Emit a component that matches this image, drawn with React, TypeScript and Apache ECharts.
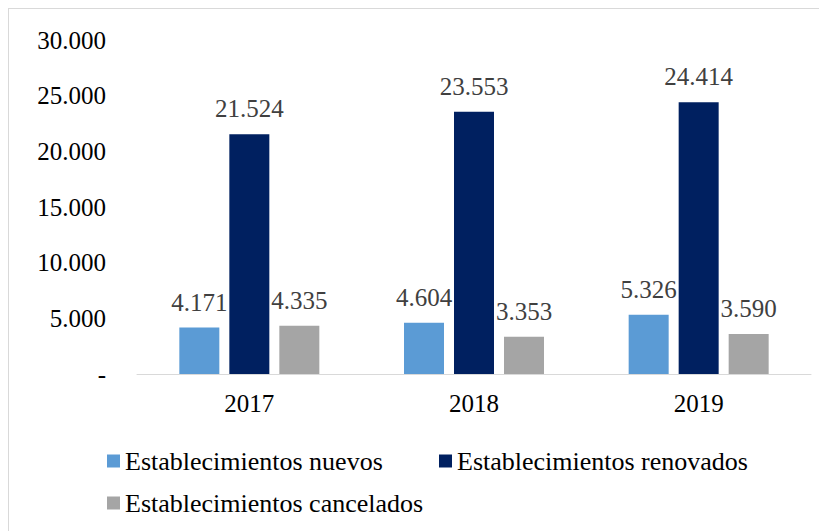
import React, { useEffect, useRef } from "react";
import * as echarts from "echarts";

const categories = ["2017", "2018", "2019"];
const seriesNames = [
  "Establecimientos nuevos",
  "Establecimientos renovados",
  "Establecimientos cancelados",
];
const nuevos = [4171, 4604, 5326];
const renovados = [21524, 23553, 24414];
const cancelados = [4335, 3353, 3590];
const colors = ["#5B9BD5", "#002060", "#A5A5A5"];
const yTicks = { min: 0, max: 30000, interval: 5000 };

const FONT = "Liberation Serif";

function fmt(v: number): string {
  if (v === 0) return "-";
  return String(Math.round(v)).replace(/\B(?=(\d{3})+(?!\d))/g, ".");
}

export default function App() {
  const ref = useRef<HTMLDivElement>(null);
  useEffect(() => {
    if (!ref.current) return;
    const chart = echarts.init(ref.current, undefined, { renderer: "svg" });
    const values = [nuevos, renovados, cancelados];
    const legendPos = [
      { left: 93, top: 434 },
      { left: 425, top: 434 },
      { left: 93, top: 476 },
    ];
    chart.setOption({
      animation: false,
      textStyle: { fontFamily: FONT },
      grid: { left: 128, top: 31, width: 674, height: 334 },
      legend: seriesNames.map((n, i) => ({
        data: [n],
        left: legendPos[i].left,
        top: legendPos[i].top,
        itemWidth: 13,
        itemHeight: 13,
        itemGap: 6,
        icon: "rect",
        textStyle: { fontFamily: FONT, fontSize: 26, color: "#000" },
      })),
      xAxis: {
        type: "category",
        data: categories,
        axisLine: { lineStyle: { color: "#d9d9d9", width: 1 } },
        axisTick: { show: false },
        axisLabel: { fontFamily: FONT, fontSize: 25, color: "#000", margin: 17 },
      },
      yAxis: {
        type: "value",
        min: yTicks.min,
        max: yTicks.max,
        interval: yTicks.interval,
        splitLine: { show: false },
        axisLine: { show: false },
        axisTick: { show: false },
        axisLabel: {
          fontFamily: FONT,
          fontSize: 25,
          color: "#000",
          margin: 31,
          formatter: (v: number) => fmt(v),
        },
      },
      series: seriesNames.map((n, i) => ({
        name: n,
        type: "bar",
        data: values[i],
        barWidth: 40,
        barGap: "25%",
        itemStyle: { color: colors[i] },
        label: {
          show: true,
          position: "top",
          distance: 13,
          fontFamily: FONT,
          fontSize: 25,
          color: "#404040",
          formatter: (p: any) => fmt(p.value),
        },
      })),
    });
    return () => chart.dispose();
  }, []);
  return (
    <div
      style={{
        width: 819,
        height: 523,
        borderLeft: "1px solid #d9d9d9",
        borderTop: "1px solid #d9d9d9",
        boxSizing: "border-box",
      }}
    >
      <div ref={ref} style={{ width: 818, height: 522 }} />
    </div>
  );
}
